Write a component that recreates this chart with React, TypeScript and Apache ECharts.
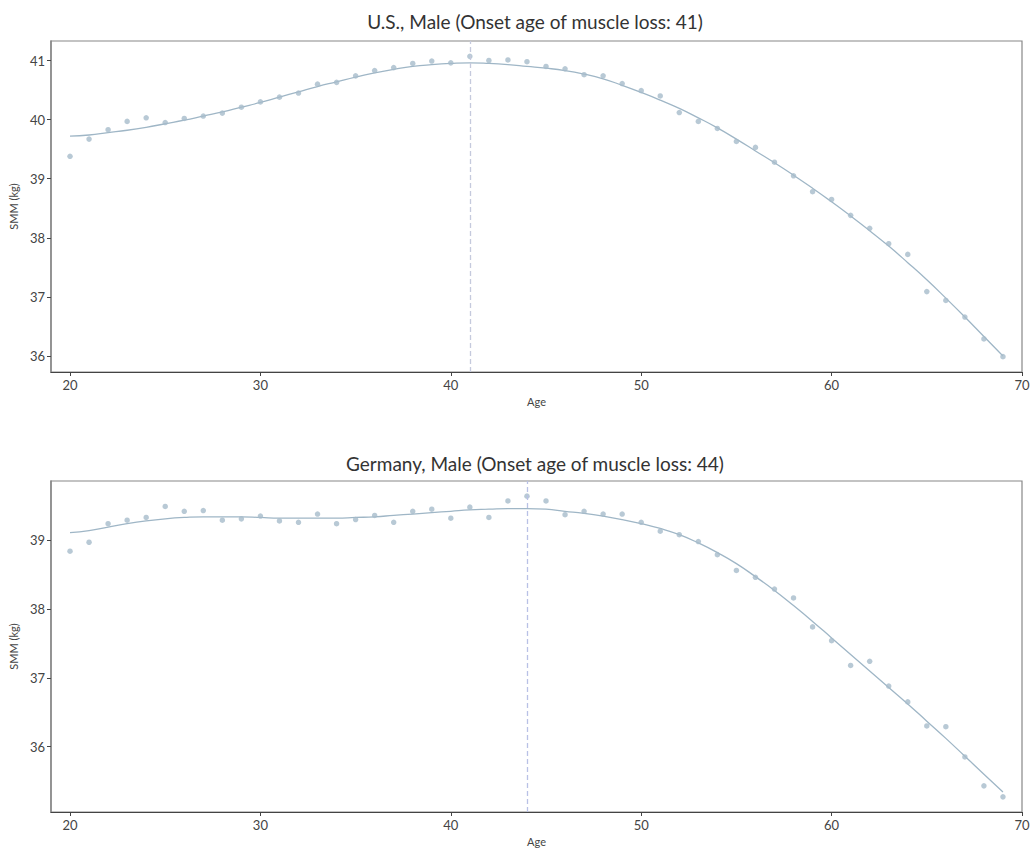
import React, { useEffect, useRef } from "react";
import * as echarts from "echarts";

const ages = [20,21,22,23,24,25,26,27,28,29,30,31,32,33,34,35,36,37,38,39,40,41,42,43,44,45,46,47,48,49,50,51,52,53,54,55,56,57,58,59,60,61,62,63,64,65,66,67,68,69];

const usPoints = [39.38,39.67,39.83,39.97,40.03,39.95,40.02,40.06,40.11,40.21,40.30,40.38,40.45,40.60,40.63,40.74,40.83,40.88,40.95,40.99,40.96,41.07,41.00,41.01,40.98,40.90,40.86,40.76,40.74,40.61,40.49,40.40,40.12,39.97,39.85,39.63,39.53,39.28,39.05,38.78,38.65,38.38,38.16,37.90,37.72,37.09,36.94,36.66,36.29,35.99];
const usFit = [39.72,39.74,39.78,39.82,39.87,39.93,39.99,40.06,40.13,40.21,40.29,40.38,40.47,40.56,40.64,40.72,40.79,40.85,40.90,40.93,40.95,40.96,40.95,40.93,40.90,40.87,40.83,40.77,40.69,40.58,40.46,40.33,40.19,40.03,39.86,39.67,39.47,39.27,39.06,38.84,38.61,38.37,38.12,37.86,37.58,37.29,36.98,36.66,36.33,36.00];

const dePoints = [38.84,38.97,39.24,39.29,39.33,39.49,39.42,39.43,39.29,39.31,39.35,39.28,39.26,39.38,39.24,39.30,39.36,39.26,39.42,39.45,39.32,39.48,39.33,39.57,39.64,39.57,39.37,39.42,39.38,39.38,39.26,39.13,39.08,38.98,38.79,38.56,38.46,38.29,38.16,37.74,37.54,37.18,37.24,36.88,36.65,36.30,36.29,35.85,35.43,35.27];
const deFit = [39.11,39.14,39.19,39.24,39.28,39.31,39.33,39.34,39.34,39.34,39.33,39.32,39.32,39.32,39.32,39.33,39.34,39.36,39.38,39.40,39.42,39.44,39.45,39.46,39.46,39.45,39.42,39.39,39.35,39.30,39.24,39.17,39.08,38.96,38.82,38.66,38.47,38.27,38.05,37.82,37.58,37.34,37.10,36.86,36.62,36.37,36.12,35.86,35.60,35.34];

const xTicks = [20, 30, 40, 50, 60, 70];
const usYTicks = [36, 37, 38, 39, 40, 41];
const deYTicks = [36, 37, 38, 39];

const usTitle = "U.S., Male (Onset age of muscle loss: 41)";
const deTitle = "Germany, Male (Onset age of muscle loss: 44)";
const usOnset = 41;
const deOnset = 44;

const FONT = "Lato, 'Noto Sans', sans-serif";
const pointColor = "#a6bccb";
const lineColor = "#9fb6c6";

export default function App() {
  const ref = useRef<HTMLDivElement>(null);
  useEffect(() => {
    if (!ref.current) return;
    const chart = echarts.init(ref.current, null, { renderer: "svg" });
    const xAxisBase = (gridIndex: number) => ({
      type: "value",
      gridIndex,
      min: 19,
      max: 70,
      name: "Age",
      nameLocation: "middle",
      nameGap: 24,
      nameTextStyle: { fontSize: 11, color: "#444", fontFamily: FONT },
      axisLine: { show: true, lineStyle: { color: "#444", width: 1.2 } },
      axisTick: { show: true, length: 4, customValues: xTicks, lineStyle: { color: "#444" } },
      axisLabel: { customValues: xTicks, fontSize: 13, color: "#444", margin: 6, fontFamily: FONT },
      splitLine: { show: false },
    });
    const yAxisBase = (gridIndex: number, min: number, max: number, ticks: number[]) => ({
      type: "value",
      gridIndex,
      min,
      max,
      name: "SMM (kg)",
      nameLocation: "middle",
      nameGap: 31,
      nameTextStyle: { fontSize: 11, color: "#444", fontFamily: FONT },
      axisLine: { show: true, lineStyle: { color: "#888", width: 1.5 } },
      axisTick: { show: true, length: 4, customValues: ticks, lineStyle: { color: "#444" } },
      axisLabel: { customValues: ticks, fontSize: 13, color: "#444", margin: 6, fontFamily: FONT },
      splitLine: { show: false },
    });
    const pts = (arr: number[]) => ages.map((a, i) => [a, arr[i]]);
    chart.setOption({
      animation: false,
      backgroundColor: "#fff",
      grid: [
        { left: 48, top: 41, width: 974, height: 331, show: true, borderColor: "#888", borderWidth: 1.2 },
        { left: 48, top: 481, width: 974, height: 331, show: true, borderColor: "#888", borderWidth: 1.2 },
      ],
      xAxis: [xAxisBase(0), xAxisBase(1)],
      yAxis: [yAxisBase(0, 35.73, 41.33, usYTicks), yAxisBase(1, 35.05, 39.86, deYTicks)],
      graphic: [
        { type: "text", x: 535, y: 21, style: { text: usTitle, align: "center", verticalAlign: "middle", fontSize: 19, fill: "#333", fontFamily: FONT } },
        { type: "text", x: 535, y: 463, style: { text: deTitle, align: "center", verticalAlign: "middle", fontSize: 19, fill: "#333", fontFamily: FONT } },
      ],
      series: [
        {
          type: "line", xAxisIndex: 0, yAxisIndex: 0, data: pts(usFit), smooth: true, showSymbol: false,
          lineStyle: { color: lineColor, width: 1.3 }, z: 2,
          markLine: {
            silent: true, symbol: "none", label: { show: false },
            lineStyle: { color: "#c5cadd", type: [5, 3], width: 1.3 },
            data: [{ xAxis: usOnset }],
          },
        },
        {
          type: "scatter", xAxisIndex: 0, yAxisIndex: 0, data: pts(usPoints), symbolSize: 5.5,
          itemStyle: { color: pointColor }, z: 3,
        },
        {
          type: "line", xAxisIndex: 1, yAxisIndex: 1, data: pts(deFit), smooth: true, showSymbol: false,
          lineStyle: { color: lineColor, width: 1.3 }, z: 2,
          markLine: {
            silent: true, symbol: "none", label: { show: false },
            lineStyle: { color: "#b9c1e6", type: [5, 3], width: 1.3 },
            data: [{ xAxis: deOnset }],
          },
        },
        {
          type: "scatter", xAxisIndex: 1, yAxisIndex: 1, data: pts(dePoints), symbolSize: 5.5,
          itemStyle: { color: pointColor }, z: 3,
        },
      ],
    });
    return () => chart.dispose();
  }, []);
  return <div ref={ref} style={{ position: "absolute", left: 0, top: 0, width: 1035, height: 850 }} />;
}
